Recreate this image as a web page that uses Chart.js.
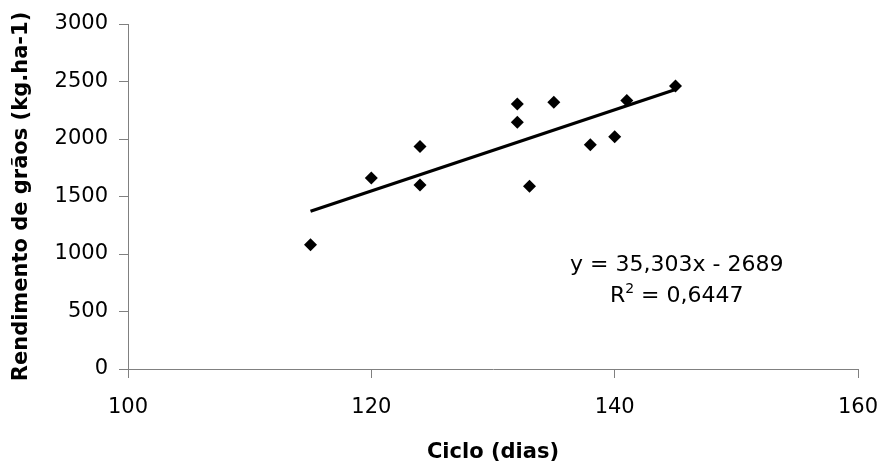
<!DOCTYPE html>
<html>
<head>
<meta charset="utf-8">
<title>Rendimento x Ciclo</title>
<script src="https://cdn.jsdelivr.net/npm/chart.js@4.4.1/dist/chart.umd.min.js"></script>
<style>
  body { margin: 0; background: #fff; }
  #chart { display: block; }
</style>
</head>
<body>
<canvas id="chart" width="881" height="468"></canvas>
<script>
// data
const cicloDias = [115, 120, 124, 124, 132, 132, 133, 135, 138, 140, 141, 145];
const rendimento = [1080, 1660, 1935, 1600, 2305, 2145, 1590, 2320, 1950, 2020, 2335, 2460];
const xTicks = [100, 120, 140, 160];
const yTicks = [0, 500, 1000, 1500, 2000, 2500, 3000];

// trendline as printed on the chart
const slope = 35.303;
const intercept = -2689;
const trendX = [115, 145];
const equationText = "y = 35,303x - 2689";
const r2Value = "0,6447";

const fontName = "'DejaVu Sans', 'Liberation Sans', Arial, sans-serif";
const axisGrey = "#808080";

const points = cicloDias.map((x, i) => ({ x: x, y: rendimento[i] }));
const trend = trendX.map((x) => ({ x: x, y: slope * x + intercept }));

// writes the equation and R² inside the plot
const equationPlugin = {
  id: "equation",
  afterDatasetsDraw(chart) {
    const ctx = chart.ctx;
    const xs = chart.scales.x;
    const ys = chart.scales.y;
    const cx = xs.getPixelForValue(145.1);
    ctx.save();
    ctx.fillStyle = "#000";
    ctx.textBaseline = "middle";
    ctx.font = "22px " + fontName;
    ctx.textAlign = "center";
    ctx.fillText(equationText, cx, ys.getPixelForValue(900));

    // R² line with a raised small 2
    const yR = ys.getPixelForValue(630);
    const big = "22px " + fontName;
    const small = "14px " + fontName;
    ctx.font = big;
    const wR = ctx.measureText("R").width;
    const rest = " = " + r2Value;
    const wRest = ctx.measureText(rest).width;
    ctx.font = small;
    const w2 = ctx.measureText("2").width;
    let x0 = cx - (wR + w2 + wRest) / 2;
    ctx.textAlign = "left";
    ctx.font = big;
    ctx.fillText("R", x0, yR);
    ctx.font = small;
    ctx.fillText("2", x0 + wR, yR - 7);
    ctx.font = big;
    ctx.fillText(rest, x0 + wR + w2, yR);
    ctx.restore();
  },
};

const ctx = document.getElementById("chart").getContext("2d");
new Chart(ctx, {
  type: "scatter",
  data: {
    datasets: [
      {
        label: "Rendimento",
        data: points,
        pointStyle: "rectRot",
        pointRadius: 6.5,
        pointHoverRadius: 6.5,
        backgroundColor: "#000",
        borderColor: "#000",
        borderWidth: 0,
      },
      {
        type: "line",
        label: "Linear",
        data: trend,
        borderColor: "#000",
        borderWidth: 3.2,
        pointRadius: 0,
        fill: false,
      },
    ],
  },
  options: {
    responsive: false,
    animation: false,
    layout: { padding: { top: 24, right: 23, left: 0, bottom: 0 } },
    plugins: {
      legend: { display: false },
      tooltip: { enabled: false },
    },
    scales: {
      x: {
        type: "linear",
        min: 100,
        max: 160,
        afterBuildTicks: (scale) => {
          scale.ticks = xTicks.map((v) => ({ value: v }));
        },
        afterFit: (scale) => {
          scale.height = 99;
          // label overhang is already covered by the layout padding
          scale.paddingLeft = 0;
          scale.paddingRight = 0;
        },
        grid: {
          drawOnChartArea: false,
          drawTicks: true,
          tickLength: 9,
          color: axisGrey,
        },
        border: { color: axisGrey, width: 1 },
        ticks: {
          color: "#000",
          padding: 17,
          maxRotation: 0,
          callback: (v) => String(v),
          font: { family: fontName, size: 21 },
        },
        title: {
          display: true,
          text: "Ciclo (dias)",
          color: "#000",
          padding: { top: 0, bottom: 3 },
          font: { family: fontName, size: 21, weight: "bold" },
        },
      },
      y: {
        type: "linear",
        min: 0,
        max: 3000,
        afterBuildTicks: (scale) => {
          scale.ticks = yTicks.map((v) => ({ value: v }));
        },
        afterFit: (scale) => {
          scale.width = 128;
        },
        grid: {
          drawOnChartArea: false,
          drawTicks: true,
          tickLength: 9,
          color: axisGrey,
        },
        border: { color: axisGrey, width: 1 },
        ticks: {
          color: "#000",
          padding: 11,
          callback: (v) => String(v),
          font: { family: fontName, size: 21 },
        },
        title: {
          display: true,
          text: "Rendimento de grãos (kg.ha-1)",
          color: "#000",
          padding: { top: 9, bottom: 0 },
          font: { family: fontName, size: 21, weight: "bold" },
        },
      },
    },
  },
  plugins: [equationPlugin],
});
</script>
</body>
</html>
